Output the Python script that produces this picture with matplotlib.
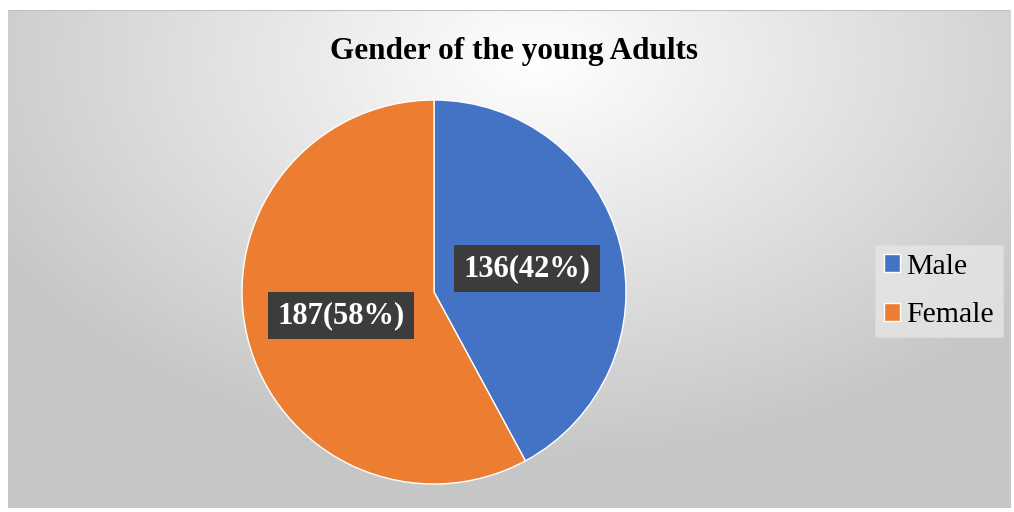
import numpy as np
import matplotlib
matplotlib.use("Agg")
import matplotlib.pyplot as plt

categories = ["Male", "Female"]
counts = [136, 187]
colors = ["#4472C4", "#ED7D31"]
title = "Gender of the young Adults"

W, H = 1014, 512
fig = plt.figure(figsize=(W / 100, H / 100), dpi=100)
fig.patch.set_facecolor("white")

# background gradient panel
bg = fig.add_axes([8 / W, 4 / H, 1002 / W, 498 / H])
yy, xx = np.mgrid[0:200, 0:400]
cx, cy = 210, 20
d = np.sqrt(((xx - cx) / 400) ** 2 + ((yy - cy) / 260) ** 2)
v = np.clip(1.0 - 0.36 * d, 0.78, 1.0)
img = np.dstack([v, v, v])
bg.imshow(img, aspect="auto", extent=[0, 1, 0, 1], interpolation="bilinear")
bg.set_xlim(0, 1)
bg.set_ylim(0, 1)
bg.axis("off")
bg.plot([0, 1], [1, 1], color="#c0c0c0", lw=1.5, transform=bg.transAxes)

# pie
R = 192
cxp, cyp = 434, 512 - 292
ax = fig.add_axes([(cxp - R) / W, (cyp - R) / H, 2 * R / W, 2 * R / H])
total = sum(counts)
wedges, texts, autotexts = ax.pie(
    counts, colors=colors, startangle=90, counterclock=False,
    radius=1, pctdistance=0.5,
    autopct=lambda p: f"{int(round(p * total / 100))}({p:.0f}%)",
    wedgeprops=dict(edgecolor="white", linewidth=1),
    textprops=dict(color="white", fontsize=22, fontweight="bold",
                   family="Liberation Serif"),
)
for t in autotexts:
    t.set_bbox(dict(boxstyle="square,pad=0.3", facecolor="#3c3c3c",
                    edgecolor="none"))
ax.set_xlim(-1, 1)
ax.set_ylim(-1, 1)
ax.set_aspect("equal")
ax.axis("off")

fig.text(514 / W, 1 - 52 / H, title, ha="center", va="center",
         fontsize=22.5, fontweight="bold", family="Liberation Serif")

# legend
leg = fig.legend(wedges, categories, loc="center right",
                 bbox_to_anchor=(1003 / W, 1 - 291 / H),
                 prop=dict(family="Liberation Serif", size=21.5),
                 frameon=True, fancybox=False, facecolor="#e6e6e6",
                 edgecolor="#dddddd", handlelength=0.55, handleheight=0.55,
                 handletextpad=0.2, labelspacing=0.75, borderpad=0.3,
                 borderaxespad=0)
leg.get_frame().set_linewidth(0.8)

fig.savefig("out.png", dpi=100)
